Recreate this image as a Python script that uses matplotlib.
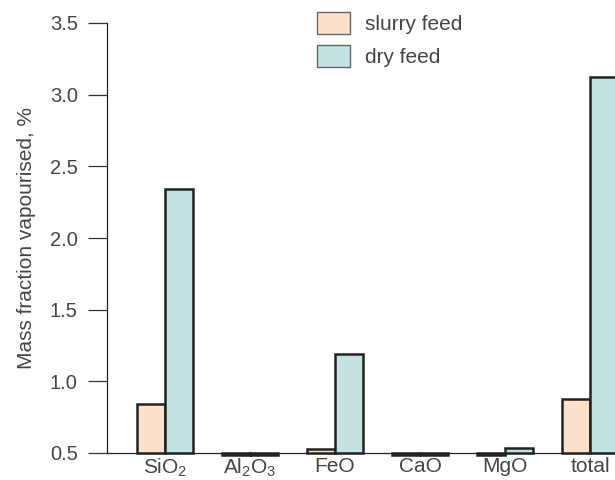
import matplotlib
matplotlib.use("Agg")
import matplotlib.pyplot as plt
import numpy as np

plt.rcParams['font.family'] = ['Liberation Sans', 'DejaVu Sans']
plt.rcParams['mathtext.default'] = 'regular'

categories = [r'SiO$_2$', r'Al$_2$O$_3$', 'FeO', 'CaO', 'MgO', 'total']
slurry_feed = [0.84, 0.485, 0.525, 0.485, 0.485, 0.88]
dry_feed = [2.34, 0.485, 1.19, 0.485, 0.535, 3.12]
yticks = [0.5, 1.0, 1.5, 2.0, 2.5, 3.0, 3.5]

slurry_color = '#fde1cb'
dry_color = '#c4e2e1'
text_color = '#454545'
edge_color = '#222222'

fig = plt.figure(figsize=(6.15, 4.8), dpi=100)
ax = fig.add_axes([107 / 615, 1 - 453 / 480, 508 / 615, 430 / 480])

x = np.arange(len(categories))
w = 0.33
base = 0.5
ax.bar(x - w / 2, np.array(slurry_feed) - base, w, bottom=base,
       color=slurry_color, edgecolor=edge_color, linewidth=1.8,
       label='slurry feed', clip_on=False, zorder=3)
ax.bar(x + w / 2, np.array(dry_feed) - base, w, bottom=base,
       color=dry_color, edgecolor=edge_color, linewidth=1.8,
       label='dry feed', clip_on=False, zorder=3)

ax.set_xlim((107 - 165) / 85, (615 - 165) / 85)
ax.set_ylim(0.5, 3.5)
ax.set_yticks(yticks)
ax.set_yticklabels([f'{t:.1f}' for t in yticks])
ax.set_xticks(x)
ax.set_xticklabels(categories)

for side in ('top', 'right'):
    ax.spines[side].set_visible(False)
for side in ('left', 'bottom'):
    ax.spines[side].set_color(edge_color)
    ax.spines[side].set_linewidth(0.9)

ax.tick_params(axis='y', direction='out', length=14, width=0.9,
               color='#333333', pad=7, labelsize=14.5, labelcolor=text_color)
ax.tick_params(axis='x', length=0, pad=3, labelsize=15, labelcolor=text_color)

ax.set_ylabel('Mass fraction vapourised, %', fontsize=15, color=text_color,
              labelpad=10)

handles = [plt.Rectangle((0, 0), 1, 1, facecolor=slurry_color, edgecolor='#666666', linewidth=1.0),
           plt.Rectangle((0, 0), 1, 1, facecolor=dry_color, edgecolor='#666666', linewidth=1.0)]
fig.legend(handles, ['slurry feed', 'dry feed'], loc='upper left',
           bbox_to_anchor=(317 / 615, 1 - 12 / 480), frameon=False,
           fontsize=15, handlelength=1.6, handleheight=1.27,
           handletextpad=0.7, labelspacing=0.5, borderpad=0,
           borderaxespad=0, labelcolor=text_color)

fig.savefig('out.png', dpi=100)
